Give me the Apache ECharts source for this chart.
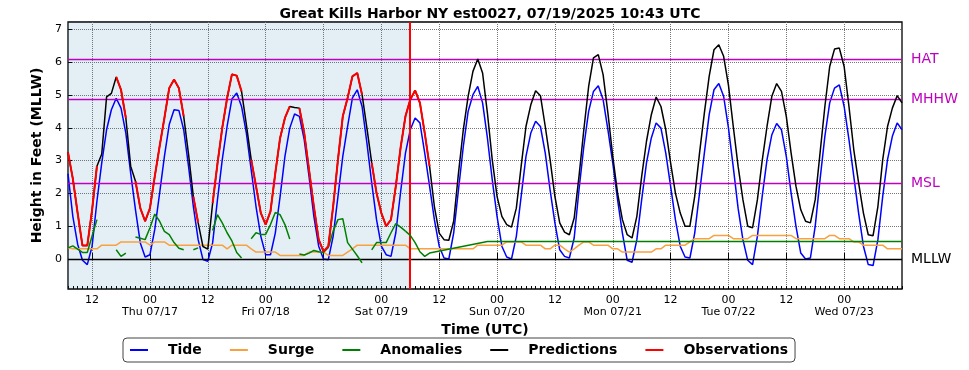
<!DOCTYPE html>
<html><head><meta charset="utf-8">
<script src="https://cdn.jsdelivr.net/npm/echarts@6/dist/echarts.min.js"></script>
<style>html,body{margin:0;padding:0;background:#fff}#c{width:969px;height:370px}</style>
</head><body><div id="c"></div>
<script>
// x values are hours since 2025-07-16 00:00 UTC; first sample at 07:00
const START_HOUR = 7;
const X_MIN = 7, X_MAX = 180;
const NOW_HOUR = 77.8;
const dayLabels = ['Thu 07/17','Fri 07/18','Sat 07/19','Sun 07/20','Mon 07/21','Tue 07/22','Wed 07/23'];
const yTicks = [0,1,2,3,4,5,6,7];

const tide = [
 2.6,1.3,0.45,-0.04,-0.17,0.39,1.76,2.93,3.94,4.55,
 4.9,4.6,3.84,2.62,1.5,0.49,0.06,0.13,0.9,2.0,
 3.13,4.1,4.55,4.53,3.94,2.83,1.6,0.59,-0.02,-0.07,
 0.49,1.8,3.03,4.04,4.88,5.06,4.65,3.84,2.72,1.6,
 0.69,0.13,0.13,0.79,1.91,3.13,3.99,4.42,4.35,3.64,
 2.52,1.3,0.39,0.0,-0.02,0.69,1.91,3.13,4.04,4.91,
 5.16,4.65,3.54,2.32,1.2,0.39,0.13,0.08,0.8,2.05,
 3.23,3.94,4.3,4.15,3.23,2.22,1.2,0.39,0.03,0.0,
 0.79,2.11,3.43,4.5,5.01,5.26,4.76,3.69,2.42,1.3,
 0.39,0.06,0.0,0.69,1.91,3.13,3.84,4.2,4.04,3.23,
 2.11,1.1,0.28,0.08,0.03,0.64,2.11,3.43,4.5,5.11,
 5.28,4.86,3.94,2.93,1.81,0.79,-0.04,-0.1,0.59,1.81,
 2.93,3.69,4.15,3.99,3.23,2.22,1.2,0.39,0.06,0.03,
 0.79,2.01,3.23,4.4,5.16,5.35,4.96,4.0,2.8,1.55,
 0.59,-0.04,-0.17,0.69,1.91,3.03,3.79,4.13,3.94,3.13,
 2.01,1.0,0.18,0.0,0.03,1.0,2.42,3.74,4.76,5.21,
 5.31,4.65,3.64,2.52,1.4,0.39,-0.17,-0.2,0.59,1.91,
 3.03,3.74,4.15,3.94
];
const surge = [
 0.34,0.31,0.31,0.31,0.31,0.31,0.31,0.42,0.42,0.42,
 0.42,0.52,0.52,0.52,0.52,0.52,0.52,0.42,0.52,0.52,
 0.52,0.42,0.42,0.42,0.42,0.42,0.42,0.42,0.42,0.42,
 0.42,0.42,0.42,0.31,0.42,0.42,0.42,0.42,0.31,0.21,
 0.21,0.21,0.21,0.21,0.11,0.11,0.11,0.11,0.11,0.11,
 0.21,0.21,0.21,0.21,0.11,0.11,0.11,0.11,0.21,0.31,
 0.42,0.42,0.42,0.42,0.42,0.42,0.42,0.42,0.42,0.42,
 0.42,0.31,0.31,0.31,0.31,0.31,0.31,0.31,0.31,0.31,
 0.31,0.31,0.31,0.31,0.31,0.42,0.42,0.42,0.42,0.42,
 0.42,0.52,0.52,0.52,0.52,0.42,0.42,0.42,0.42,0.31,
 0.31,0.42,0.42,0.31,0.21,0.31,0.42,0.52,0.52,0.42,
 0.42,0.42,0.42,0.31,0.31,0.21,0.21,0.21,0.21,0.21,
 0.21,0.21,0.31,0.31,0.42,0.42,0.42,0.42,0.42,0.52,
 0.62,0.62,0.62,0.62,0.72,0.72,0.72,0.72,0.62,0.62,
 0.62,0.62,0.72,0.72,0.72,0.72,0.72,0.72,0.72,0.72,
 0.72,0.62,0.62,0.62,0.62,0.62,0.62,0.62,0.72,0.72,
 0.62,0.62,0.62,0.52,0.52,0.42,0.42,0.42,0.42,0.42,
 0.31,0.31,0.31,0.31
];
const anomalies = [
 0.34,0.4,0.3,0.2,0.2,0.7,1.2,null,null,null,
 0.28,0.08,0.18,null,0.67,0.63,0.59,0.95,1.37,1.15,
 0.84,0.74,0.5,0.33,0.28,null,0.28,0.34,null,null,
 0.87,1.35,1.1,0.8,0.55,0.2,0.03,null,0.62,0.8,
 0.75,0.75,1.05,1.42,1.35,1.05,0.61,null,0.15,0.12,
 0.18,0.26,0.22,0.2,0.35,0.85,1.2,1.23,0.5,0.3,
 0.1,-0.12,null,0.28,0.5,0.5,0.5,0.8,1.08,0.97,
 0.85
];
// forecast anomaly: [sample index, value]
const anomalyForecast = [[70,0.85],[71,0.72],[72,0.5],[73,0.22],[74,0.08],[75,0.18],[87,0.53],[173,0.53]];
const predictions = [
 3.25,2.45,1.4,0.41,0.41,1.5,2.83,3.2,4.94,5.05,
 5.55,5.16,4.3,2.83,2.37,1.55,1.15,1.55,2.52,3.43,
 4.3,5.21,5.47,5.21,4.35,3.2,1.9,1.1,0.38,0.3,
 1.7,2.9,4.0,4.9,5.63,5.59,5.11,4.1,3.03,2.22,
 1.4,1.05,1.45,2.62,3.69,4.3,4.65,4.62,4.6,3.84,
 2.72,1.6,0.59,0.23,0.39,1.6,3.03,4.35,4.91,5.57,
 5.67,5.01,4.0,2.93,2.01,1.4,1.0,1.2,2.22,3.4,
 4.35,4.86,5.14,4.76,3.84,2.83,1.6,0.79,0.59,0.57,
 1.15,2.62,3.94,4.96,5.72,6.1,5.67,4.45,3.03,1.91,
 1.3,1.05,0.97,1.55,2.83,4.04,4.7,5.13,4.98,4.04,
 3.03,1.91,1.1,0.82,0.74,1.25,2.52,3.94,5.26,6.13,
 6.23,5.62,4.45,3.13,2.01,1.2,0.74,0.64,1.3,2.52,
 3.59,4.4,4.94,4.65,3.94,2.93,2.01,1.4,1.0,1.0,
 1.91,3.23,4.45,5.57,6.38,6.53,6.18,5.3,4.04,2.83,
 1.81,1.0,0.95,1.8,3.0,4.04,4.96,5.35,5.11,4.35,
 3.23,2.22,1.5,1.15,1.1,1.81,3.23,4.65,5.87,6.4,
 6.43,5.87,4.65,3.33,2.32,1.4,0.74,0.71,1.6,3.03,
 4.04,4.6,4.98,4.76
];
const observations = [
 3.25,2.45,1.4,0.41,0.41,1.5,2.83,null,null,null,
 5.55,5.16,4.3,null,2.37,1.55,1.15,1.55,2.52,3.43,
 4.3,5.21,5.47,5.21,4.35,null,1.9,1.1,null,null,
 1.7,2.9,4.0,4.9,5.63,5.59,5.11,null,3.03,2.22,
 1.4,1.05,1.45,2.62,3.69,4.3,4.65,null,4.6,3.84,
 2.72,1.6,0.59,0.23,0.39,1.6,3.03,4.35,4.91,5.57,
 5.67,5.01,null,2.93,2.01,1.4,1.0,1.2,2.22,3.4,
 4.35,4.86,5.14,4.76,3.84,2.83
];
const datumNames = ['HAT','MHHW','MSL','MLLW'];
const datumValues = [6.10, 4.88, 2.32, 0];
const datumColors = ['#bf00bf','#bf00bf','#bf00bf','#000000'];

const toXY = arr => arr.map((v,i) => [START_HOUR + i, v]);
const majorTicks = [];
for (let h = 12; h < X_MAX; h += 12) majorTicks.push(h);
const minorTicks = [];
for (let h = X_MIN; h <= X_MAX; h += 1) minorTicks.push(h);

const chart = echarts.init(document.getElementById('c'), null, {renderer:'canvas'});
const FONT = 'DejaVu Sans';
const lineSeries = (name, data, color, width, z) => ({
  name, type:'line', data, showSymbol:false, symbol:'none', z,
  lineStyle:{color, width}, itemStyle:{color}, animation:false
});

chart.setOption({
  animation:false,
  textStyle:{fontFamily:FONT},
  title:{
    text:'Great Kills Harbor NY est0027, 07/19/2025 10:43 UTC',
    left:485, textAlign:'center', top:2,
    textStyle:{fontFamily:FONT, fontSize:14, fontWeight:'bold', color:'#000'}
  },
  grid:{left:68, right:67, top:22, bottom:81, show:true, borderColor:'#000', borderWidth:1.3, backgroundColor:'transparent'},
  legend:{
    data:['Tide','Surge','Anomalies','Predictions','Observations'],
    left:123, top:338, icon:'rect', itemWidth:18, itemHeight:2, itemGap:28,
    padding:[5,7], borderColor:'#444', borderWidth:1, borderRadius:4,
    textStyle:{fontFamily:FONT, fontSize:14, fontWeight:'bold', color:'#000', padding:[0,0,0,15]}
  },
  xAxis:[{
    type:'value', min:X_MIN, max:X_MAX,
    name:'Time (UTC)', nameLocation:'middle', nameGap:28,
    nameTextStyle:{fontFamily:FONT, fontSize:14, fontWeight:'bold', color:'#000'},
    axisLine:{show:false},
    axisTick:{show:true, inside:true, length:6, customValues:majorTicks, lineStyle:{color:'#000', width:1}},
    axisLabel:{customValues:majorTicks, fontSize:11, color:'#000', margin:5, lineHeight:12,
      formatter: v => (v % 24 === 0) ? ('00\n' + dayLabels[v/24 - 1]) : '12'},
    splitLine:{show:true, lineStyle:{type:'dotted', color:'#777', width:1}}
  },{
    type:'value', min:X_MIN, max:X_MAX, position:'bottom',
    axisLine:{show:false},
    axisTick:{show:true, inside:true, length:3, customValues:minorTicks, lineStyle:{color:'#000', width:1}},
    axisLabel:{show:false}, splitLine:{show:false}
  }],
  yAxis:{
    type:'value', min:-0.915, max:7.226,
    name:'Height in Feet (MLLW)', nameLocation:'middle', nameGap:16,
    nameTextStyle:{fontFamily:FONT, fontSize:14, fontWeight:'bold', color:'#000'},
    axisLine:{show:false},
    axisTick:{show:true, inside:true, length:4, customValues:yTicks, lineStyle:{color:'#000'}},
    axisLabel:{customValues:yTicks, fontSize:11, color:'#000', margin:6},
    splitLine:{show:true, lineStyle:{type:'dotted', color:'#777', width:1}}
  },
  series:[
    {
      name:'ref', type:'line', data:[], z:1, clip:false, animation:false,
      markArea:{silent:true, itemStyle:{color:'rgba(30,113,172,0.12)'},
        data:[[{xAxis:X_MIN},{xAxis:NOW_HOUR}]]},
      markLine:{silent:true, symbol:['none','none'], animation:false,
        data: datumValues.map((v,i) => ({
          yAxis:v, name:datumNames[i],
          lineStyle:{color:datumColors[i], width:1.3, type:'solid'},
          label:{show:true, position:'end', formatter:datumNames[i], color:datumColors[i],
                 fontSize:14, fontFamily:FONT, distance:9}
        }))}
    },
    lineSeries('Tide', toXY(tide), '#0000ff', 1.5, 3),
    lineSeries('Surge', toXY(surge), '#f7a13f', 1.5, 4),
    lineSeries('Anomalies', toXY(anomalies), '#008000', 1.5, 5),
    lineSeries('Anomalies', anomalyForecast.map(p => [START_HOUR + p[0], p[1]]), '#008000', 1.5, 5),
    lineSeries('Predictions', toXY(predictions), '#000000', 1.5, 6),
    lineSeries('Observations', toXY(observations), '#ff0000', 2, 7),
    {
      name:'now', type:'line', data:[], z:8, animation:false,
      markLine:{silent:true, symbol:['none','none'], label:{show:false},
        lineStyle:{color:'#ff0000', width:2, type:'solid'},
        data:[{xAxis:NOW_HOUR}]}
    }
  ]
});
</script></body></html>
